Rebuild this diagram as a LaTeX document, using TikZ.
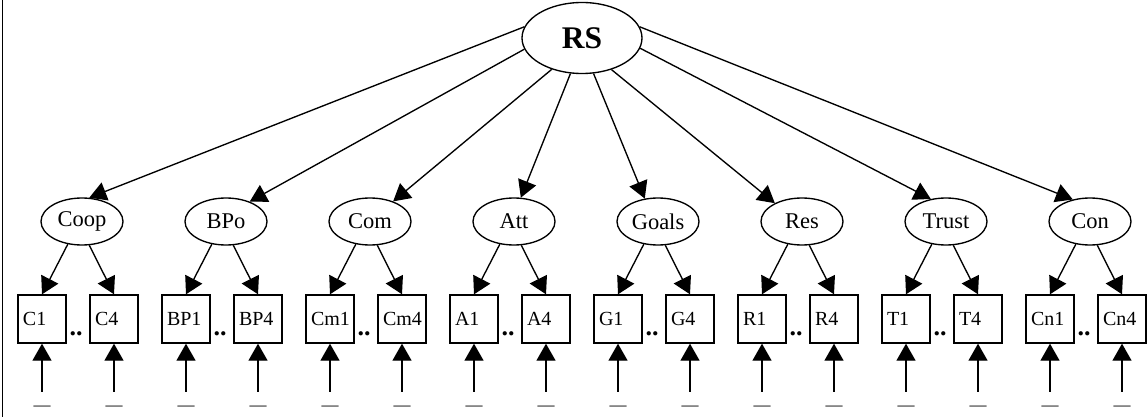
\documentclass[tikz,border=0pt]{standalone}
\usepackage{fontspec}
\setmainfont{Liberation Serif}
\usetikzlibrary{arrows.meta,shapes.geometric}
\begin{document}
\begin{tikzpicture}[x=1pt,y=-1pt,
  lat/.style={draw, ellipse, line width=1.35pt, minimum width=82pt, minimum height=47pt, inner sep=0pt, font=\fontsize{22.5}{24}\selectfont},
  ind/.style={draw, rectangle, line width=1.35pt, minimum height=48pt, text width=38pt, inner xsep=5pt, inner ysep=0pt, align=left, font=\fontsize{20}{21}\selectfont},
  arr/.style={line width=1.35pt, -{Triangle[length=17pt,width=19pt]}},
  errlab/.style={inner sep=0pt, font=\fontsize{17}{17}\selectfont},
  dotlab/.style={inner sep=0pt, font=\bfseries\fontsize{26}{26}\selectfont, anchor=base}]
\useasboundingbox (0,0) rectangle (1148,417);
\draw[line width=1.4pt] (2.5,0) -- (2.5,417);
\node[draw, ellipse, line width=1.35pt, minimum width=120pt, minimum height=71pt, inner sep=0pt, font=\bfseries\fontsize{31.5}{33}\selectfont] (RS) at (582,38) {RS};
\foreach \k/\lab/\pre/\sa/\ea in {0/Coop/C/169/73, 1/BPo/BP/191/40, 2/Com/Cm/226/41, 3/Att/A/252/74, 4/Goals/G/288/120, 5/Res/R/313/146, 6/Trust/T/350/124, 7/Con/Cn/11/128}{
  \pgfmathsetmacro{\cx}{82+144*\k}
  \node[lat] (L\k) at (\cx,221.5) {\lab};
  \node[ind] (B\k a) at (\cx-40,319) {\pre1};
  \node[ind] (B\k b) at (\cx+32,319) {\pre4};
  \node[dotlab] (D\k) at (\cx-6,335) {..};
  \node[errlab] (E\k a) at (\cx-40,408) {—};
  \node[errlab] (E\k b) at (\cx+32,408) {—};
  \draw[arr] (RS.\sa) -- (L\k.\ea);
  \draw[arr] (L\k.238) -- (B\k a.north);
  \draw[arr] (L\k.287) -- (B\k b.north);
  \draw[arr, shorten <=14pt] (E\k a) -- (B\k a.south);
  \draw[arr, shorten <=14pt] (E\k b) -- (B\k b.south);
}
\end{tikzpicture}
\end{document}
